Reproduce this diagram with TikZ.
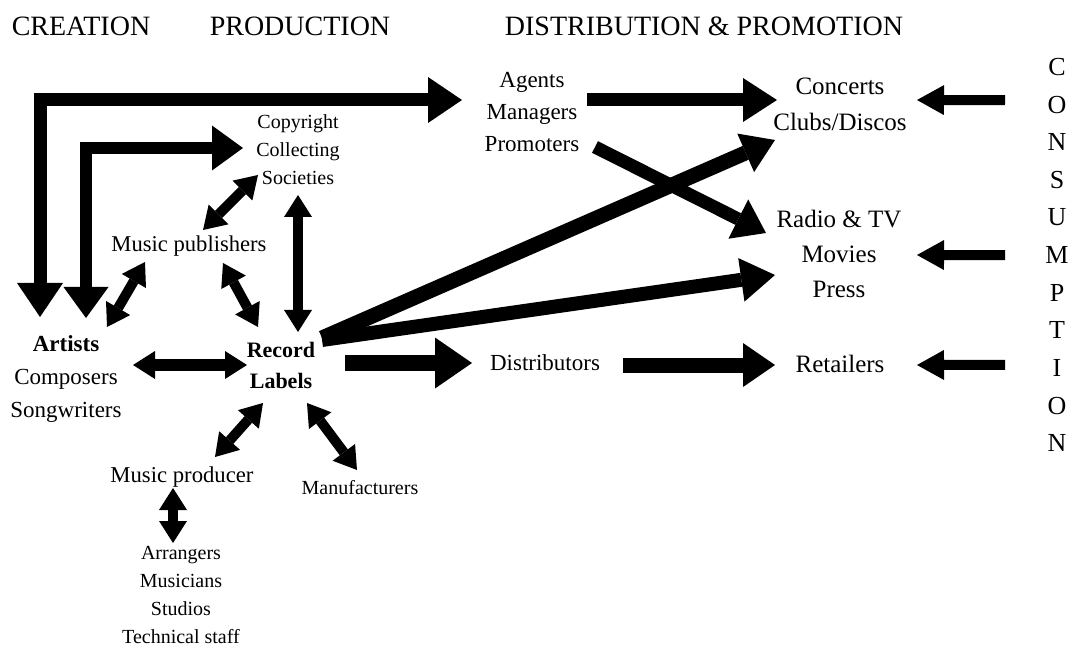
\documentclass[tikz,border=0pt]{standalone}
\usepackage{fontspec}
\setmainfont{Liberation Serif}
\usetikzlibrary{arrows.meta}
\newcommand\fsz[2]{\fontsize{#1}{#2}\selectfont}
\tikzset{
  txt/.style={inner sep=0pt, align=center},
  onearrow/.style n args={3}{line width=#1, -{Triangle[width=#2,length=#3,line width=0pt]}},
  twoarrow/.style n args={3}{line width=#1, {Triangle[width=#2,length=#3,line width=0pt]}-{Triangle[width=#2,length=#3,line width=0pt]}},
}
\begin{document}
\begin{tikzpicture}[x=1pt,y=-1pt]
\useasboundingbox[fill=white] (0,0) rectangle (1077,647);

% headers
\node[txt,font=\fsz{28}{32}] (cre) at (81,26) {CREATION};
\node[txt,font=\fsz{28}{32}] (pro) at (300,26) {PRODUCTION};
\node[txt,font=\fsz{28}{32}] (dis) at (704,26) {DISTRIBUTION \& PROMOTION};

% nodes
\node[txt,font=\fsz{20}{28}] (copy) at (298,150) {Copyright\\Collecting\\Societies};
\node[txt,font=\fsz{22.6}{26}] (pub) at (189,246) {Music publishers};
\node[txt,font=\fsz{23}{33}] (art) at (66,379) {\textbf{Artists}\\Composers\\Songwriters};
\node[txt,font=\fsz{22}{31}\bfseries] (rec) at (281,365) {Record\\Labels};
\node[txt,font=\fsz{22.7}{26}] (prod) at (182,477) {Music producer};
\node[txt,font=\fsz{20}{24}] (manu) at (360,488) {Manufacturers};
\node[txt,font=\fsz{20}{27.8}] (arrs) at (181,595) {Arrangers\\Musicians\\Studios\\Technical staff};
\node[txt,font=\fsz{23}{32}] (agents) at (532,112) {Agents\\Managers\\Promoters};
\node[txt,font=\fsz{25}{36}] (conc) at (840,104) {Concerts\\Clubs/Discos};
\node[txt,font=\fsz{25}{35}] (radio) at (839,254) {Radio \& TV\\Movies\\Press};
\node[txt,font=\fsz{23}{26}] (distr) at (545,363) {Distributors};
\node[txt,font=\fsz{25}{28}] (ret) at (840,364) {Retailers};

\foreach \l [count=\i] in {C,O,N,S,U,M,P,T,I,O,N}
  \node[txt,font=\fsz{26}{30},anchor=base] (c\i) at (1057,{75.6+37.6*(\i-1)}) {\l};

% L-shaped arrows from artists
\draw[twoarrow={13pt}{46pt}{34pt}] ([shift={(-26,-62)}]art.center) |- ([shift={(-70,-12)}]agents.center);
\draw[twoarrow={12pt}{45pt}{31pt}] ([shift={(20,-61)}]art.center) |- ([shift={(-55,-2)}]copy.center);

% production double arrows
\draw[twoarrow={10pt}{28pt}{22pt}] ([shift={(14,-16)}]pub.center) -- ([shift={(-40,25)}]copy.center);
\draw[twoarrow={10pt}{28pt}{22pt}] ([shift={(0,45)}]copy.center) -- ([shift={(17,-33)}]rec.center);
\draw[twoarrow={10pt}{28pt}{22pt}] ([shift={(-44,16)}]pub.center) -- ([shift={(41,-52)}]art.center);
\draw[twoarrow={10pt}{28pt}{22pt}] ([shift={(34,17)}]pub.center) -- ([shift={(-23,-38)}]rec.center);
\draw[twoarrow={12pt}{28pt}{22pt}] ([shift={(67,-14)}]art.center) -- ([shift={(-34,0)}]rec.center);
\draw[twoarrow={10pt}{28pt}{22pt}] ([shift={(-18,38)}]rec.center) -- ([shift={(33,-20)}]prod.center);
\draw[twoarrow={10pt}{28pt}{22pt}] ([shift={(26,38)}]rec.center) -- ([shift={(-3,-18)}]manu.center);
\draw[twoarrow={10pt}{28pt}{22pt}] ([shift={(-9,11)}]prod.center) -- ([shift={(-8,-52)}]arrs.center);

% distribution arrows
\draw[onearrow={16pt}{51pt}{37pt}] ([shift={(64,-2)}]rec.center) -- ([shift={(-73,0)}]distr.center);
\draw[onearrow={15pt}{42pt}{32pt}] ([shift={(41,-27)}]rec.center) -- ([shift={(-65,36)}]conc.center);
\draw[onearrow={14pt}{44pt}{34pt}] ([shift={(41,-25)}]rec.center) -- ([shift={(-64,21)}]radio.center);
\draw[onearrow={13pt}{44pt}{34pt}] ([shift={(55,-12)}]agents.center) -- ([shift={(-63,-4)}]conc.center);
\draw[onearrow={13pt}{44pt}{31pt}] ([shift={(63,35)}]agents.center) -- ([shift={(-73,-21)}]radio.center);
\draw[onearrow={15pt}{44pt}{32pt}] ([shift={(78,2)}]distr.center) -- ([shift={(-65,1)}]ret.center);

% consumption arrows
\draw[onearrow={10pt}{30pt}{27pt}] ([shift={(-52,-4.5)}]c2.center) -- ([shift={(77,-4)}]conc.center);
\draw[onearrow={10pt}{30pt}{27pt}] ([shift={(-52,0)}]c6.center) -- ([shift={(78,1)}]radio.center);
\draw[onearrow={10pt}{30pt}{27pt}] ([shift={(-52,-3)}]c9.center) -- ([shift={(77,1)}]ret.center);
\end{tikzpicture}
\end{document}
